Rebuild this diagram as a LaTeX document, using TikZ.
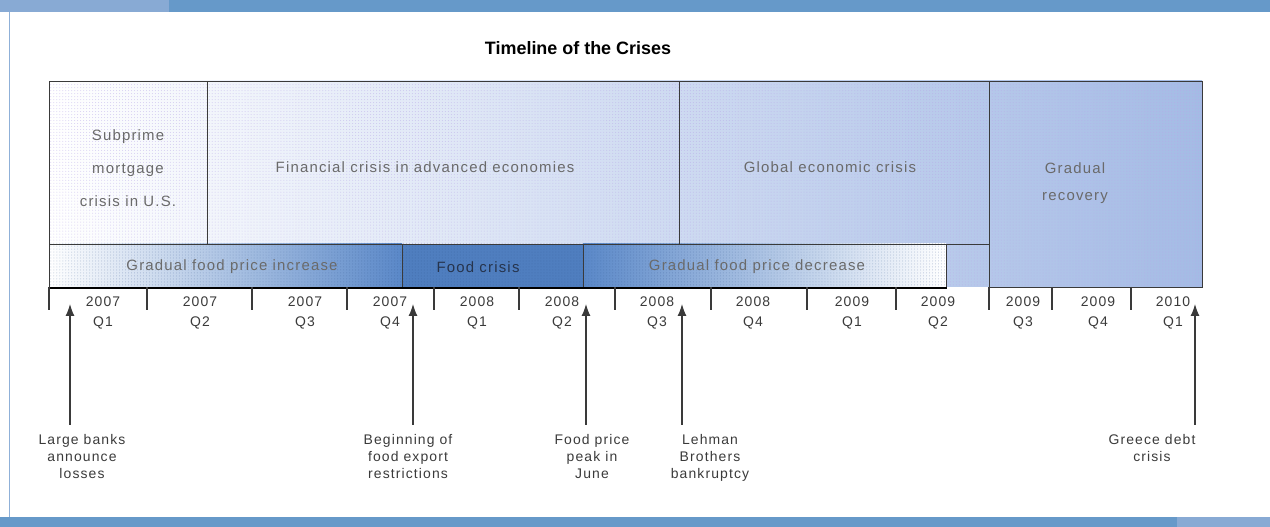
\documentclass[tikz,border=0pt]{standalone}
\usepackage{fontspec}
\setmainfont{Liberation Sans}[LetterSpace=8]
\newfontfamily\titlefont{Liberation Sans}
\usetikzlibrary{arrows.meta,patterns}
\definecolor{barblue}{HTML}{6699C9}
\definecolor{barlight}{HTML}{88AAD4}
\definecolor{framel}{HTML}{8FB0D8}
\definecolor{recov}{HTML}{A4BBE5}
\definecolor{foodblue}{HTML}{5A88C8}
\definecolor{crisisblue}{HTML}{4F7EBF}
\definecolor{txtgray}{HTML}{6A6A6A}
\definecolor{inkgray}{HTML}{3A3A3A}
\definecolor{crisistxt}{HTML}{26344D}
\definecolor{dotlav}{HTML}{B8A8E8}
\definecolor{dotdark}{HTML}{2E4E8A}
\begin{document}
\begin{tikzpicture}[x=1bp,y=-1bp,
  region/.style={draw=inkgray, line width=1.3bp, inner sep=0, anchor=north west},
  lbl/.style={font=\fontsize{15}{33}\selectfont, text=txtgray, align=center, inner sep=0},
  foodlbl/.style={font=\fontsize{15}{18}\selectfont, text=txtgray, align=center, inner sep=0},
  ticklbl/.style={font=\fontsize{14}{20}\selectfont, text=inkgray, align=center, inner sep=0},
  note/.style={font=\fontsize{14}{17}\selectfont, text=inkgray, align=center, inner sep=0, anchor=north},
  tickline/.style={draw=inkgray, line width=1.4bp},
  pointer/.style={draw=inkgray, line width=1.2bp, -{Latex[length=12bp,width=9bp]}}]
\useasboundingbox (0,0) rectangle (1270,527);
% frame
\fill[barlight] (0,0) rectangle (169,12);
\fill[barblue] (169,0) rectangle (1270,12);
\fill[barblue] (0,517) rectangle (1177,527);
\fill[barlight] (1177,517) rectangle (1270,527);
\draw[framel, line width=1bp] (9.5,12) -- (9.5,517);
% title
\node (title) [font=\titlefont\bfseries\fontsize{18}{20}\selectfont, text=black] at (578,48) {Timeline of the Crises};
% background shading of the main box
\shade[left color=white, right color=recov] (49,81) rectangle (1202,287);
\fill[pattern=dots, pattern color=dotlav, fill opacity=0.55] (49,81) rectangle (1202,287);
% food row shadings
\shade[left color=white, right color=foodblue] (49,244) rectangle (402,287);
\fill[crisisblue] (402,244) rectangle (583,287);
\shade[left color=foodblue, right color=white] (583,244) rectangle (946,287);
\fill[pattern=dots, pattern color=dotdark, fill opacity=0.35] (49,244) rectangle (946,287);
% region nodes (borders)
\node (sub)  [region, minimum width=158bp, minimum height=163bp] at (49,81) {};
\node (fin)  [region, minimum width=472bp, minimum height=163bp] at (207,81) {};
\node (glob) [region, minimum width=310bp, minimum height=163bp] at (679,81) {};
\node (rec)  [region, minimum width=213bp, minimum height=206bp] at (989,81) {};
\node (inc)  [region, minimum width=353bp, minimum height=43bp] at (49,244) {};
\node (fc)   [region, minimum width=181bp, minimum height=43bp] at (402,244) {};
\node (dec)  [region, minimum width=363bp, minimum height=43bp] at (583,244) {};
% axis
\draw[black, line width=2.2bp] (inc.south west) -- (dec.south east);
% region texts
\node (subt)  [lbl] at (128,168) {Subprime\\mortgage\\crisis in U.S.};
\node (fint)  [lbl] at (425,167) {Financial crisis in advanced economies};
\node (globt) [lbl] at (830,167) {Global economic crisis};
\node (rect)  [lbl, font=\fontsize{15}{27}\selectfont] at (1075,183) {Gradual\\recovery};
\node (inct)  [foodlbl] at (232,267) {Gradual food price increase};
\node (fct)   [foodlbl, text=crisistxt] at (478,267) {Food crisis};
\node (dect)  [foodlbl] at (757,267) {Gradual food price decrease};
% ticks
\foreach \x [count=\i] in {49,147,252,347,434,519,615,711,807,896,989,1052,1131}
  \draw[tickline] (\x,287) -- (\x,310) coordinate (tk\i);
% tick labels
\foreach \x/\y/\q [count=\i] in {103/2007/Q1,200/2007/Q2,305/2007/Q3,390/2007/Q4,
   477/2008/Q1,562/2008/Q2,657/2008/Q3,753/2008/Q4,852/2009/Q1,938/2009/Q2,
   1023/2009/Q3,1098/2009/Q4,1173/2010/Q1}
  \node (yl\i) [ticklbl] at (\x,313) {\y\\\q};
% annotations
\node (n1) [note] at (82,434) {Large banks\\announce\\losses};
\node (n2) [note] at (408,434) {Beginning of\\food export\\restrictions};
\node (n3) [note] at (592,434) {Food price\\peak in\\June};
\node (n4) [note] at (710,434) {Lehman\\Brothers\\bankruptcy};
\node (n5) [note] at (1152,434) {Greece debt\\crisis};
% arrows
\foreach \x [count=\i] in {70,413,586,682,1195}{
  \coordinate (b\i) at (\x,425);
  \coordinate (t\i) at (\x,304);
  \draw[pointer] (b\i) -- (t\i);
}
\end{tikzpicture}
\end{document}
